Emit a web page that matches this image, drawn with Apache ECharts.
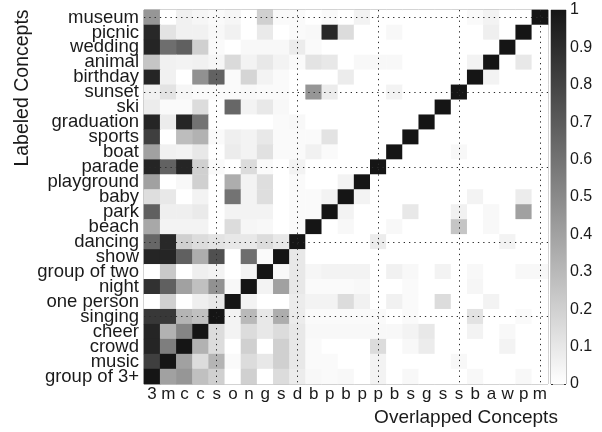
<!DOCTYPE html>
<html>
<head>
<meta charset="utf-8">
<script src="https://cdn.jsdelivr.net/npm/echarts@6/dist/echarts.min.js"></script>
<style>
html, body { margin: 0; padding: 0; background: #fff; }
#chart { width: 602px; height: 432px; }
</style>
</head>
<body>
<div id="chart"></div>
<script>
// Labeled concepts, top to bottom
const rowLabels = ['museum', 'picnic', 'wedding', 'animal', 'birthday', 'sunset', 'ski',
  'graduation', 'sports', 'boat', 'parade', 'playground', 'baby', 'park', 'beach',
  'dancing', 'show', 'group of two', 'night', 'one person', 'singing', 'cheer',
  'crowd', 'music', 'group of 3+'];

// Overlapped concepts (initial letters), left to right
const colLabels = ['3', 'm', 'c', 'c', 's', 'o', 'n', 'g', 's', 'd', 'b', 'p', 'b',
  'p', 'p', 'b', 's', 'g', 's', 's', 'b', 'a', 'w', 'p', 'm'];

// Overlap ratio per labeled concept, one value per overlapped concept
const museum     = [0.45, 0, 0.06, 0.04, 0.02, 0.04, 0, 0.2, 0.02, 0.02, 0, 0.02, 0, 0.05, 0, 0, 0, 0, 0, 0, 0.02, 0.05, 0, 0, 1];
const picnic     = [0.92, 0.12, 0.06, 0.06, 0.03, 0.06, 0, 0.09, 0, 0.02, 0.03, 0.92, 0.15, 0, 0, 0.03, 0, 0, 0, 0, 0, 0.07, 0, 1, 0];
const wedding    = [0.93, 0.62, 0.68, 0.2, 0.02, 0, 0.03, 0.03, 0.03, 0.08, 0.02, 0, 0, 0, 0, 0, 0, 0, 0, 0, 0, 0, 1, 0, 0];
const animal     = [0.25, 0.06, 0.05, 0.06, 0.04, 0.16, 0.05, 0.1, 0.05, 0.02, 0.12, 0.1, 0, 0.03, 0.03, 0.03, 0, 0, 0, 0, 0.05, 1, 0, 0.1, 0];
const birthday   = [0.93, 0.06, 0, 0.47, 0.67, 0.02, 0.18, 0.05, 0.02, 0, 0, 0, 0.08, 0, 0, 0, 0, 0, 0, 0, 1, 0.05, 0, 0, 0];
const sunset     = [0.06, 0.12, 0.04, 0.02, 0.02, 0.02, 0.03, 0.02, 0.02, 0, 0.45, 0.08, 0, 0, 0, 0.05, 0, 0, 0, 1, 0, 0, 0, 0, 0];
const ski        = [0.08, 0.02, 0.02, 0.15, 0, 0.65, 0.05, 0.1, 0.03, 0, 0, 0, 0, 0, 0, 0, 0, 0, 1, 0, 0, 0, 0, 0, 0];
const graduation = [0.93, 0.08, 0.93, 0.6, 0, 0, 0, 0, 0.02, 0.03, 0, 0, 0, 0, 0, 0, 0, 1, 0, 0, 0, 0, 0, 0, 0];
const sports     = [0.82, 0, 0.28, 0.33, 0.02, 0.07, 0.05, 0.1, 0.02, 0.02, 0.02, 0.12, 0, 0, 0, 0, 1, 0, 0, 0, 0, 0, 0, 0, 0];
const boat       = [0.4, 0.06, 0.05, 0.1, 0, 0.08, 0.05, 0.13, 0.02, 0.02, 0.06, 0.02, 0, 0, 0, 1, 0, 0, 0, 0.03, 0, 0, 0, 0, 0];
const parade     = [0.93, 0.67, 0.93, 0.2, 0.02, 0, 0.15, 0.02, 0, 0.05, 0, 0, 0, 0, 1, 0, 0, 0, 0, 0, 0, 0, 0, 0, 0];
const playground = [0.4, 0, 0.03, 0.2, 0, 0.35, 0.05, 0.14, 0, 0.02, 0, 0, 0.05, 1, 0, 0, 0, 0, 0, 0, 0, 0, 0, 0, 0];
const baby       = [0.14, 0.1, 0, 0.05, 0, 0.6, 0.05, 0.14, 0, 0.02, 0.02, 0.05, 1, 0.05, 0, 0, 0, 0, 0, 0, 0.05, 0, 0, 0.08, 0];
const park       = [0.68, 0.07, 0.07, 0.09, 0, 0.05, 0.05, 0.05, 0, 0.02, 0.02, 1, 0.05, 0, 0, 0, 0.1, 0, 0, 0.06, 0, 0.03, 0, 0.4, 0];
const beach      = [0.37, 0.05, 0.05, 0.05, 0, 0.15, 0.04, 0.03, 0, 0.02, 1, 0, 0.03, 0, 0, 0.03, 0, 0, 0, 0.25, 0, 0.03, 0, 0, 0];
const dancing    = [0.65, 0.92, 0.2, 0.15, 0.12, 0.1, 0.1, 0.15, 0.1, 1, 0, 0, 0, 0, 0.08, 0, 0, 0, 0, 0, 0, 0, 0.05, 0, 0];
const show       = [0.93, 0.93, 0.68, 0.35, 0.75, 0, 0.62, 0.02, 1, 0.1, 0, 0, 0, 0, 0, 0, 0, 0, 0, 0, 0, 0, 0, 0, 0];
const groupOfTwo = [0, 0.23, 0, 0.07, 0.05, 0, 0.05, 1, 0.03, 0.1, 0.04, 0.05, 0.05, 0.05, 0, 0.06, 0.03, 0, 0.05, 0, 0.03, 0, 0, 0.03, 0.03];
const night      = [0.88, 0.68, 0.4, 0.27, 0.47, 0.03, 1, 0.05, 0.4, 0.1, 0.02, 0.02, 0.02, 0.03, 0, 0, 0.02, 0, 0, 0, 0.04, 0, 0, 0, 0];
const onePerson  = [0, 0.2, 0, 0.07, 0.1, 1, 0.05, 0, 0, 0.08, 0.05, 0.05, 0.15, 0.06, 0, 0.06, 0.02, 0, 0.15, 0, 0, 0.05, 0, 0, 0];
const singing    = [0.85, 0.85, 0.32, 0.27, 1, 0.05, 0.3, 0.1, 0.35, 0.08, 0.02, 0.02, 0.02, 0.02, 0.02, 0, 0.02, 0, 0, 0, 0.12, 0, 0, 0.02, 0];
const cheer      = [0.93, 0.33, 0.52, 1, 0.15, 0.05, 0.15, 0.1, 0.15, 0.1, 0.03, 0.03, 0.03, 0.03, 0.03, 0.03, 0.05, 0.1, 0, 0, 0.05, 0, 0.03, 0, 0];
const crowd      = [0.93, 0.55, 1, 0.33, 0.15, 0, 0.2, 0, 0.2, 0.1, 0.02, 0, 0, 0, 0.15, 0, 0.03, 0.08, 0, 0, 0, 0, 0.05, 0, 0];
const music      = [0.82, 1, 0.4, 0.15, 0.32, 0.02, 0.15, 0.1, 0.2, 0.1, 0.02, 0.02, 0, 0, 0.05, 0, 0, 0, 0, 0.03, 0, 0, 0, 0, 0];
const groupOf3   = [1, 0.4, 0.45, 0.27, 0.2, 0, 0.2, 0, 0.15, 0.08, 0.03, 0.02, 0.03, 0, 0.05, 0, 0.03, 0, 0, 0, 0.03, 0, 0, 0.03, 0];

const rowValues = [museum, picnic, wedding, animal, birthday, sunset, ski, graduation,
  sports, boat, parade, playground, baby, park, beach, dancing, show, groupOfTwo,
  night, onePerson, singing, cheer, crowd, music, groupOf3];

// Guide lines every fifth concept
const guideCols = [4, 9, 14, 19, 24];
const guideRows = [0, 5, 10, 15, 20];

const cells = [];
rowValues.forEach((vals, r) => vals.forEach((v, c) => cells.push([c, r, v])));

const FONT = '"Liberation Sans", Arial, Helvetica, sans-serif';
const TEXT = '#1a1a1a';
const DARK = '#151515';

const chart = echarts.init(document.getElementById('chart'), null, { renderer: 'canvas' });

const guideLine = { type: [1.3, 4], color: '#2a2a2a', width: 1 };
const isGuideCol = (i) => guideCols.indexOf(i) >= 0;
const isGuideRow = (i) => guideRows.indexOf(i) >= 0;
const innerTick = (fn) => ({ show: true, inside: true, length: 3, alignWithLabel: true, interval: fn,
  lineStyle: { color: '#333', width: 1 } });

chart.setOption({
  animation: false,
  textStyle: { fontFamily: FONT },
  grid: [
    { left: 144, top: 10, width: 404, height: 374, show: true, borderColor: '#8c8c8c', borderWidth: 1, backgroundColor: 'transparent' },
    { left: 551, top: 10, width: 15, height: 374, show: true, borderColor: '#8c8c8c', borderWidth: 1, backgroundColor: 'transparent' }
  ],
  xAxis: [
    {
      type: 'category', gridIndex: 0, data: colLabels, position: 'bottom',
      axisLine: { show: false }, splitLine: { show: false },
      axisTick: innerTick((i) => isGuideCol(i)),
      axisLabel: { interval: 0, margin: 2, fontSize: 17, color: TEXT, fontFamily: FONT }
    },
    {
      type: 'category', gridIndex: 0, data: colLabels, position: 'top',
      axisLine: { show: false }, splitLine: { show: false }, axisLabel: { show: false },
      axisTick: innerTick((i) => isGuideCol(i))
    },
    {
      type: 'category', gridIndex: 1, data: [''], show: false
    }
  ],
  yAxis: [
    {
      type: 'category', gridIndex: 0, data: rowLabels, inverse: true, position: 'left',
      axisLine: { show: false }, splitLine: { show: false },
      axisTick: innerTick((i) => isGuideRow(i)),
      axisLabel: { interval: 0, margin: 5, fontSize: 18.5, color: TEXT, fontFamily: FONT }
    },
    {
      type: 'category', gridIndex: 0, data: rowLabels, inverse: true, position: 'right',
      axisLine: { show: false }, splitLine: { show: false }, axisLabel: { show: false },
      axisTick: innerTick((i) => isGuideRow(i))
    },
    {
      type: 'value', gridIndex: 1, min: 0, max: 1, interval: 0.1, position: 'right',
      axisLine: { show: false }, splitLine: { show: false },
      axisTick: { show: true, inside: true, length: 2, lineStyle: { color: '#333' } },
      axisLabel: { margin: 4, fontSize: 16, color: TEXT, fontFamily: FONT }
    },
    {
      type: 'value', gridIndex: 1, min: 0, max: 1, interval: 0.1, position: 'left',
      axisLine: { show: false }, splitLine: { show: false }, axisLabel: { show: false },
      axisTick: { show: true, inside: true, length: 2, lineStyle: { color: '#333' } }
    }
  ],
  visualMap: {
    show: false, type: 'continuous', min: 0, max: 1, seriesIndex: 0, dimension: 2,
    inRange: { color: ['#ffffff', DARK] }
  },
  series: [
    {
      type: 'heatmap', xAxisIndex: 0, yAxisIndex: 0, data: cells,
      emphasis: { disabled: true }, silent: true,
      markLine: {
        silent: true, symbol: ['none', 'none'], label: { show: false },
        lineStyle: guideLine, animation: false,
        data: guideCols.map((c) => ({ xAxis: c })).concat(guideRows.map((r) => ({ yAxis: r })))
      }
    },
    {
      // colour scale strip
      type: 'bar', xAxisIndex: 2, yAxisIndex: 2, data: [1], barWidth: '100%', silent: true,
      itemStyle: {
        color: new echarts.graphic.LinearGradient(0, 0, 0, 1, [
          { offset: 0, color: DARK }, { offset: 1, color: '#ffffff' }
        ])
      }
    }
  ],
  graphic: [
    {
      type: 'text', x: 23, y: 88, rotation: Math.PI / 2,
      style: { text: 'Labeled Concepts', fontSize: 19.5, fontFamily: FONT, fill: TEXT, align: 'center', verticalAlign: 'middle' }
    },
    {
      type: 'text', x: 466, y: 418,
      style: { text: 'Overlapped Concepts', fontSize: 19, fontFamily: FONT, fill: TEXT, align: 'center', verticalAlign: 'middle' }
    }
  ]
});
</script>
</body>
</html>
